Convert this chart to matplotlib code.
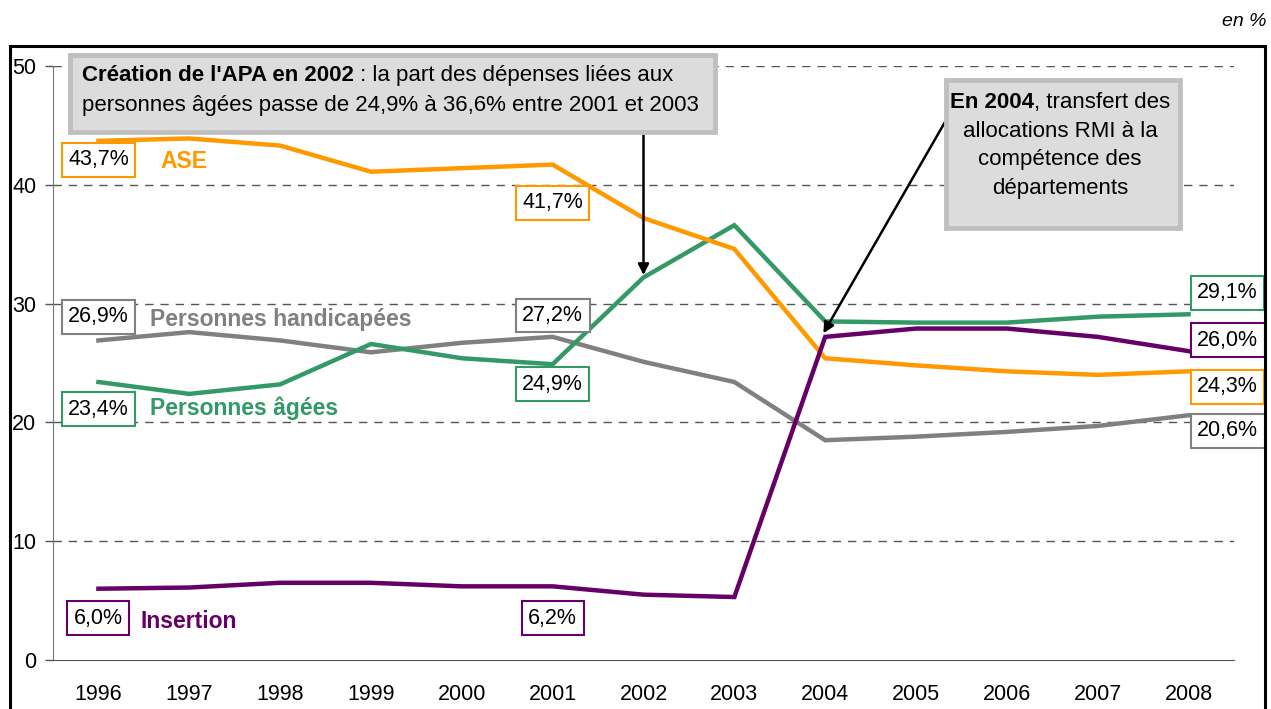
import matplotlib
matplotlib.use("Agg")
import matplotlib.pyplot as plt
import matplotlib.patches as mpatches

# ── Data ──────────────────────────────────────────────────────────────────────
years = [1996, 1997, 1998, 1999, 2000, 2001, 2002, 2003, 2004, 2005, 2006, 2007, 2008]
ase        = [43.7, 43.9, 43.3, 41.1, 41.4, 41.7, 37.2, 34.6, 25.4, 24.8, 24.3, 24.0, 24.3]
agees      = [23.4, 22.4, 23.2, 26.6, 25.4, 24.9, 32.2, 36.6, 28.5, 28.4, 28.4, 28.9, 29.1]
handicap   = [26.9, 27.6, 26.9, 25.9, 26.7, 27.2, 25.1, 23.4, 18.5, 18.8, 19.2, 19.7, 20.6]
insertion  = [6.0, 6.1, 6.5, 6.5, 6.2, 6.2, 5.5, 5.3, 27.2, 27.9, 27.9, 27.2, 26.0]
yticks = [0, 10, 20, 30, 40, 50]

# ── Style ─────────────────────────────────────────────────────────────────────
plt.rcParams["font.family"] = ["Liberation Sans", "DejaVu Sans"]
ORANGE = "#ff9900"
GREEN = "#339966"
GREY = "#808080"
PURPLE = "#660066"
FS = 15.5      # value labels / ticks
FS_BOX = 16    # annotation boxes

W, H = 1271, 709
fig = plt.figure(figsize=(W / 100, H / 100), dpi=100)

def px(x, y):
    # pixel position (from top-left) -> figure fraction
    return x / W, 1 - y / H

ax = fig.add_axes([53 / W, 1 - 660 / H, (1234 - 53) / W, (660 - 66) / H])

series = [
    (ase, ORANGE, "ASE"),
    (agees, GREEN, "Personnes âgées"),
    (handicap, GREY, "Personnes handicapées"),
    (insertion, PURPLE, "Insertion"),
]
for vals, col, name in [series[2], series[1], series[0], series[3]]:
    ax.plot(years, vals, color=col, lw=3.2, solid_joinstyle="miter", zorder=3)

ax.set_xlim(1995.5, 2008.5)
ax.set_ylim(0, 50)
ax.set_yticks(yticks)
ax.set_xticks(years)
ax.tick_params(axis="y", direction="out", length=6, width=1, color="#555555",
               labelsize=FS, pad=6)
ax.tick_params(axis="x", length=0, labelsize=FS, pad=17)
for y in yticks[1:]:
    ax.axhline(y, color="#555555", lw=1, ls=(0, (6, 5)), zorder=1)
for s in ["top", "right"]:
    ax.spines[s].set_visible(False)
ax.spines["left"].set_color("#777777")
ax.spines["bottom"].set_color("#555555")

# ── Value labels ──────────────────────────────────────────────────────────────
def vlabel(x, y, txt, col):
    ax.text(x, y, txt, ha="center", va="center", fontsize=FS, zorder=6,
            clip_on=False,
            bbox=dict(boxstyle="square,pad=0.3", fc="white", ec=col, lw=1.5))

first, mid, last = 0, 5, -1
for vals, col, name in series:
    for i in (first, mid, last):
        v = vals[i]
        txt = f"{v:.1f}%".replace(".", ",")
        if i == first:
            dy = {ORANGE: -1.6, GREEN: -2.3, GREY: 2.0, PURPLE: -2.5}[col]
            vlabel(years[i], v + dy, txt, col)
        elif i == mid:
            dy = {ORANGE: -3.2, GREEN: -1.7, GREY: 1.8, PURPLE: -2.7}[col]
            vlabel(years[i], v + dy, txt, col)
        else:
            dy = {ORANGE: -1.3, GREEN: 1.8, GREY: -1.3, PURPLE: 0.9}[col]
            vlabel(years[i] + 0.43, v + dy, txt, col)

# series names
name_pos = {"ASE": (1996.68, 42.0), "Personnes handicapées": (1996.57, 28.7),
            "Personnes âgées": (1996.57, 21.2), "Insertion": (1996.46, 3.2)}
for vals, col, name in series:
    x, y = name_pos[name]
    ax.text(x, y, name, color=col, fontsize=16.5, fontweight="bold",
            ha="left", va="center", zorder=6)

# ── Annotation boxes ──────────────────────────────────────────────────────────
box1 = mpatches.Rectangle(px(70, 132), 645 / W, 77 / H, transform=fig.transFigure,
                          fc="#dcdcdc", ec="#bfbfbf", lw=3.5, zorder=7, clip_on=False)
ax.add_patch(box1)
t1 = ax.text(*px(82, 86), "Création de l'APA en 2002", transform=fig.transFigure,
             fontsize=FS_BOX, fontweight="bold", ha="left", va="bottom", zorder=8)
ax.annotate(" : la part des dépenses liées aux", xy=(1, 0), xycoords=t1,
            fontsize=FS_BOX, ha="left", va="bottom", zorder=8)
ax.text(*px(82, 116), "personnes âgées passe de 24,9% à 36,6% entre 2001 et 2003",
        transform=fig.transFigure, fontsize=FS_BOX, ha="left", va="bottom", zorder=8)

box2 = mpatches.Rectangle(px(946, 228), 234 / W, 148 / H, transform=fig.transFigure,
                          fc="#dcdcdc", ec="#bfbfbf", lw=3.5, zorder=7, clip_on=False)
ax.add_patch(box2)
cx = 1060
fig.canvas.draw()
r = fig.canvas.get_renderer()
b = ax.text(0, 0, "En 2004", fontsize=FS_BOX, fontweight="bold")
n = ax.text(0, 0, ", transfert des", fontsize=FS_BOX)
wb = b.get_window_extent(r).width
wn = n.get_window_extent(r).width
b.remove(); n.remove()
x0 = cx - (wb + wn) / 2
tb = ax.text(*px(x0, 113), "En 2004", transform=fig.transFigure, fontsize=FS_BOX,
             fontweight="bold", ha="left", va="bottom", zorder=8)
ax.annotate(", transfert des", xy=(1, 0), xycoords=tb, fontsize=FS_BOX,
            ha="left", va="bottom", zorder=8)
for k, line in enumerate(["allocations RMI à la", "compétence des", "départements"]):
    ax.text(*px(cx, 142 + 28.5 * k), line, transform=fig.transFigure, fontsize=FS_BOX,
            ha="center", va="bottom", zorder=8)

# arrows
ax.annotate("", xy=(2002, 32.4), xytext=(2002, H - 132),
            textcoords=("data", "figure pixels"),
            arrowprops=dict(arrowstyle="-|>", color="black", lw=1.8,
                            mutation_scale=16, shrinkA=0, shrinkB=0), zorder=6)
ax.annotate("", xy=(2003.98, 27.5), xytext=(945, H - 122), textcoords="figure pixels",
            arrowprops=dict(arrowstyle="-|>", color="black", lw=1.8,
                            mutation_scale=16, shrinkA=0, shrinkB=0), zorder=6)

# outer frame and unit
frame = mpatches.Rectangle(px(10, 720), (1265 - 10) / W, (720 - 46) / H,
                           transform=fig.transFigure, fill=False, ec="black", lw=2.2,
                           clip_on=False)
fig.patches.append(frame)
fig.text(*px(1267, 22), "en %", ha="right", va="center", fontsize=14, style="italic")

fig.savefig("out.png", dpi=100)
